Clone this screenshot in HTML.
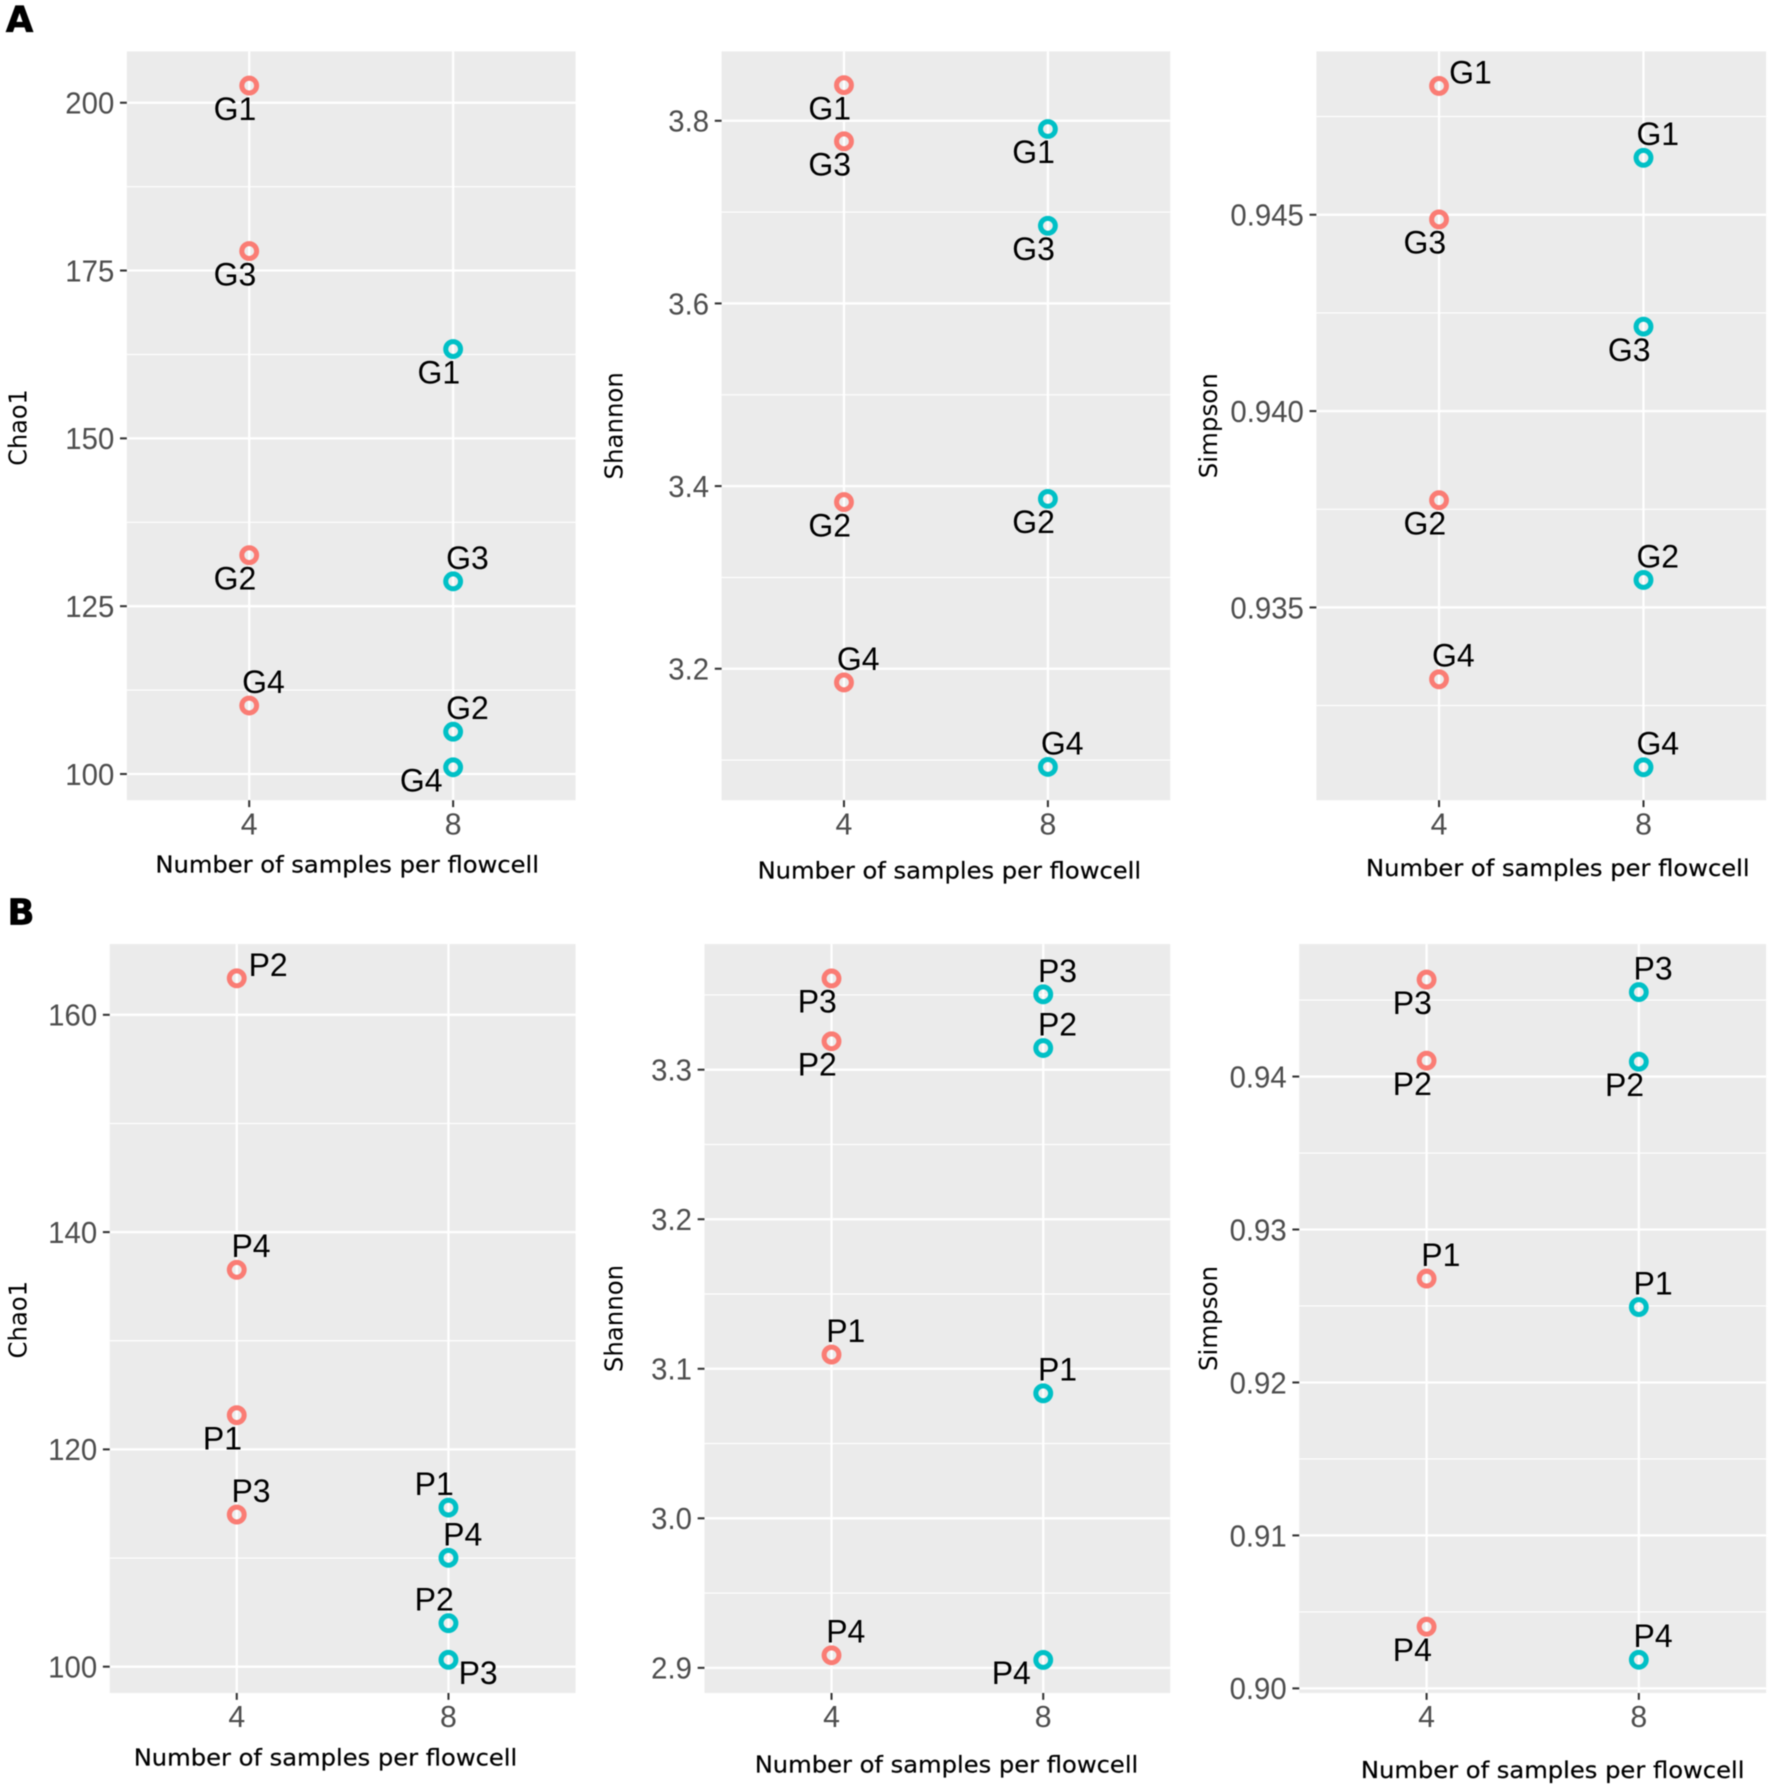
<!DOCTYPE html>
<html lang="en">
<head>
<meta charset="utf-8">
<title>Alpha diversity by number of samples per flowcell</title>
<style>
  html, body { margin: 0; padding: 0; background: #fff; }
  svg { display: block; filter: blur(0.5px); }
  .sans { font-family: "Liberation Sans", sans-serif; }
  .dejavu { font-family: "DejaVu Sans", sans-serif; }
</style>
</head>
<body>
<svg id="figure" xmlns="http://www.w3.org/2000/svg" width="1772" height="1790" viewBox="0 0 1552 1568"></svg>
<script>
// ---------- shared categories ----------
const flowcellSamples = [4, 8];
const gLabels = ['G1', 'G2', 'G3', 'G4'];
const pLabels = ['P1', 'P2', 'P3', 'P4'];

// ---------- row A: values (order G1..G4) ----------
const aChaoAt4 = [202.55, 132.6, 177.9, 110.2];
const aChaoAt8 = [163.3, 106.3, 128.7, 101.0];
const aShannonAt4 = [3.839, 3.3825, 3.7775, 3.185];
const aShannonAt8 = [3.791, 3.386, 3.685, 3.0925];
const aSimpsonAt4 = [0.94828, 0.93773, 0.94488, 0.93317];
const aSimpsonAt8 = [0.94645, 0.9357, 0.94215, 0.93093];

// ---------- row B: values (order P1..P4) ----------
const bChaoAt4 = [123.15, 163.36, 114.0, 136.53];
const bChaoAt8 = [114.64, 104.0, 100.63, 110.02];
const bShannonAt4 = [3.1095, 3.319, 3.361, 2.9084];
const bShannonAt8 = [3.0836, 3.3145, 3.3504, 2.9053];
const bSimpsonAt4 = [0.92679, 0.94104, 0.94634, 0.90403];
const bSimpsonAt8 = [0.92493, 0.94097, 0.94552, 0.90187];

// ---------- y-axis ticks ----------
const aChaoTicks = [100, 125, 150, 175, 200];
const aChaoTickLabels = ['100', '125', '150', '175', '200'];
const aShannonTicks = [3.2, 3.4, 3.6, 3.8];
const aShannonTickLabels = ['3.2', '3.4', '3.6', '3.8'];
const aSimpsonTicks = [0.935, 0.94, 0.945];
const aSimpsonTickLabels = ['0.935', '0.940', '0.945'];
const bChaoTicks = [100, 120, 140, 160];
const bChaoTickLabels = ['100', '120', '140', '160'];
const bShannonTicks = [2.9, 3.0, 3.1, 3.2, 3.3];
const bShannonTickLabels = ['2.9', '3.0', '3.1', '3.2', '3.3'];
const bSimpsonTicks = [0.90, 0.91, 0.92, 0.93, 0.94];
const bSimpsonTickLabels = ['0.90', '0.91', '0.92', '0.93', '0.94'];

// ---------- y-axis domains ----------
const aChaoDomain = [96.09, 207.65];
const aShannonDomain = [3.056, 3.876];
const aSimpsonDomain = [0.93009, 0.94916];
const bChaoDomain = [97.58, 166.51];
const bShannonDomain = [2.8832, 3.384];
const bSimpsonDomain = [0.8997, 0.94866];
const xDomain = [1.6, 10.4];

// ---------- which side of its point each label sits on ----------
const aChaoSideAt4 = ['SW', 'SW', 'SW', 'NE'];
const aChaoSideAt8 = ['SW', 'NE', 'NE', 'WSW'];
const aShannonSideAt4 = ['SW', 'SW', 'SW', 'NE'];
const aShannonSideAt8 = ['SW', 'SW', 'SW', 'NE'];
const aSimpsonSideAt4 = ['ENE', 'SW', 'SW', 'NE'];
const aSimpsonSideAt8 = ['NE', 'NE', 'SW', 'NE'];
const bChaoSideAt4 = ['SW', 'ENE', 'NE', 'NE'];
const bChaoSideAt8 = ['NW', 'NW', 'ESE', 'NE'];
const bShannonSideAt4 = ['NE', 'SW', 'SW', 'NE'];
const bShannonSideAt8 = ['NE', 'NE', 'NE', 'WSW'];
const bSimpsonSideAt4 = ['NE', 'SW', 'SW', 'SW'];
const bSimpsonSideAt8 = ['NE', 'SW', 'NE', 'NE'];

const SVG_NS = 'http://www.w3.org/2000/svg';
const figure = document.getElementById('figure');
const NUDGE = { SW: [-12.5, 21], NE: [12.5, -20], NW: [-12.5, -20], ENE: [27.5, -11], WSW: [-28, 12], ESE: [26, 12] };
const COLOR_4 = '#fa7c74';
const COLOR_8 = '#00c0c6';

function make(parent, tag, attrs, text) {
  const el = document.createElementNS(SVG_NS, tag);
  for (const k in attrs) el.setAttribute(k, attrs[k]);
  if (text !== undefined) el.textContent = text;
  parent.appendChild(el);
  return el;
}

// tick digits in the reference are slightly narrower than Liberation Sans
function narrow(el) {
  el.setAttribute('textLength', (el.getComputedTextLength() * 0.97).toFixed(1));
  el.setAttribute('lengthAdjust', 'spacingAndGlyphs');
}

function drawPanel(p) {
  const g = make(figure, 'g', {});
  
  

  const xScale = v => p.left + (v - xDomain[0]) / (xDomain[1] - xDomain[0]) * (p.right - p.left);
  const yScale = v => p.top + (p.domain[1] - v) / (p.domain[1] - p.domain[0]) * (p.bottom - p.top);

  const bg = make(g, 'rect', { x: p.left, y: p.top, width: p.right - p.left, height: p.bottom - p.top, fill: '#ebebeb' });
  
  

  // minor gridlines sit midway between the major ticks
  const step = p.ticks[1] - p.ticks[0];
  const minors = p.ticks.map(t => t - step / 2).concat([p.ticks[p.ticks.length - 1] + step / 2]);
  minors.forEach(m => {
    if (m < p.domain[0] || m > p.domain[1]) return;
    const line = make(g, 'line', { x1: p.left, x2: p.right, y1: yScale(m), y2: yScale(m), stroke: '#fff', 'stroke-width': 1 });
    
    
  });

  p.ticks.forEach((t, i) => {
    const y = yScale(t);
    const line = make(g, 'line', { x1: p.left, x2: p.right, y1: y, y2: y, stroke: '#fff', 'stroke-width': 2 });
    
    
    const tick = make(g, 'line', { x1: p.left - 6, x2: p.left, y1: y, y2: y, stroke: '#333', 'stroke-width': 1.8 });
    
    
    const label = make(g, 'text', { x: p.left - 11, y: y + 9.5, 'text-anchor': 'end', 'font-size': 26.5, fill: '#4d4d4d', class: 'sans' }, p.tickLabels[i]);
    narrow(label);
    
    
  });

  flowcellSamples.forEach(s => {
    const x = xScale(s);
    const line = make(g, 'line', { x1: x, x2: x, y1: p.top, y2: p.bottom, stroke: '#fff', 'stroke-width': 2 });
    
    
    const tick = make(g, 'line', { x1: x, x2: x, y1: p.bottom, y2: p.bottom + 6, stroke: '#333', 'stroke-width': 1.8 });
    
    
    const label = make(g, 'text', { x: x, y: p.bottom + 30, 'text-anchor': 'middle', 'font-size': 26.5, fill: '#4d4d4d', class: 'sans' }, String(s));
    
    
  });

  const series = [
    { sample: flowcellSamples[0], values: p.at4, sides: p.side4, color: COLOR_4 },
    { sample: flowcellSamples[1], values: p.at8, sides: p.side8, color: COLOR_8 }
  ];
  series.forEach(se => {
    se.values.forEach((v, i) => {
      const cx = xScale(se.sample);
      const cy = yScale(v);
      const dot = make(g, 'circle', { cx: cx, cy: cy, r: 6.5, fill: 'none', stroke: se.color, 'stroke-width': 4.4 });
      
      
      const n = NUDGE[se.sides[i]];
      const lab = make(g, 'text', { x: cx + n[0], y: cy + n[1] + 9, 'text-anchor': 'middle', 'font-size': 28, fill: '#000', class: 'sans' }, p.labels[i]);
      
      
    });
  });

  const xt = make(g, 'text', { x: p.xTitle[0], y: p.xTitle[1] + 6.5, 'text-anchor': 'middle', 'font-size': 20.5, fill: '#000', stroke: '#000', 'stroke-width': 0.2, class: 'dejavu', textLength: 336, lengthAdjust: 'spacingAndGlyphs' }, 'Number of samples per flowcell');
  
  

  const yt = make(g, 'text', { transform: 'translate(' + (p.yTitle[0] + 8) + ',' + p.yTitle[1] + ') rotate(-90)', 'text-anchor': 'middle', 'font-size': 22, fill: '#000', class: 'dejavu', textLength: p.yTitle[2], lengthAdjust: 'spacingAndGlyphs' }, p.title);
  
  
}

drawPanel({ id: 'a-chao1', title: 'Chao1', left: 111, right: 504, top: 45, bottom: 701, domain: aChaoDomain, ticks: aChaoTicks, tickLabels: aChaoTickLabels, at4: aChaoAt4, at8: aChaoAt8, side4: aChaoSideAt4, side8: aChaoSideAt8, labels: gLabels, xTitle: [304, 758], yTitle: [15, 374.5, 67] });
drawPanel({ id: 'a-shannon', title: 'Shannon', left: 632, right: 1025, top: 45, bottom: 701, domain: aShannonDomain, ticks: aShannonTicks, tickLabels: aShannonTickLabels, at4: aShannonAt4, at8: aShannonAt8, side4: aShannonSideAt4, side8: aShannonSideAt8, labels: gLabels, xTitle: [831.5, 763], yTitle: [537, 373, 94] });
drawPanel({ id: 'a-simpson', title: 'Simpson', left: 1153, right: 1547, top: 45, bottom: 701, domain: aSimpsonDomain, ticks: aSimpsonTicks, tickLabels: aSimpsonTickLabels, at4: aSimpsonAt4, at8: aSimpsonAt8, side4: aSimpsonSideAt4, side8: aSimpsonSideAt8, labels: gLabels, xTitle: [1364.5, 761], yTitle: [1058, 373, 92] });
drawPanel({ id: 'b-chao1', title: 'Chao1', left: 96, right: 504, top: 827, bottom: 1483, domain: bChaoDomain, ticks: bChaoTicks, tickLabels: bChaoTickLabels, at4: bChaoAt4, at8: bChaoAt8, side4: bChaoSideAt4, side8: bChaoSideAt8, labels: pLabels, xTitle: [285, 1540], yTitle: [15, 1156, 68] });
drawPanel({ id: 'b-shannon', title: 'Shannon', left: 617, right: 1025, top: 827, bottom: 1483, domain: bShannonDomain, ticks: bShannonTicks, tickLabels: bShannonTickLabels, at4: bShannonAt4, at8: bShannonAt8, side4: bShannonSideAt4, side8: bShannonSideAt8, labels: pLabels, xTitle: [829, 1546], yTitle: [537, 1155, 94] });
drawPanel({ id: 'b-simpson', title: 'Simpson', left: 1138, right: 1547, top: 827, bottom: 1483, domain: bSimpsonDomain, ticks: bSimpsonTicks, tickLabels: bSimpsonTickLabels, at4: bSimpsonAt4, at8: bSimpsonAt8, side4: bSimpsonSideAt4, side8: bSimpsonSideAt8, labels: pLabels, xTitle: [1360, 1551], yTitle: [1058, 1155, 92] });

const letterA = make(figure, 'text', { x: 5, y: 27.5, 'font-size': 31, 'font-weight': 'bold', fill: '#000', class: 'dejavu', stroke: '#000', 'stroke-width': 0.6 }, 'A');


const letterB = make(figure, 'text', { x: 6.5, y: 810, 'font-size': 31, 'font-weight': 'bold', fill: '#000', class: 'dejavu', stroke: '#000', 'stroke-width': 0.6 }, 'B');


</script>
</body>
</html>
